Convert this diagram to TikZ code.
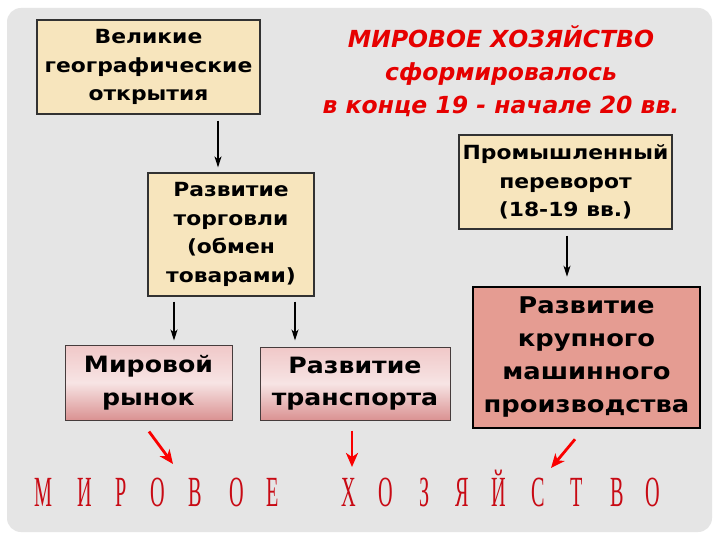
\documentclass[tikz,border=0pt]{standalone}
\usepackage{fontspec}
\setmainfont{DejaVu Sans}
\newfontfamily\boxfont{DejaVu Sans}[FakeStretch=1.12]
\newfontfamily\condserif{Liberation Serif}[RawFeature=-ccmp]
\usetikzlibrary{arrows.meta,calc}
\definecolor{bggray}{RGB}{229,229,229}
\definecolor{beige}{RGB}{247,229,189}
\definecolor{salmon}{RGB}{229,156,146}
\definecolor{titlered}{RGB}{230,0,0}
\definecolor{letterred}{RGB}{200,10,20}
\definecolor{arrowred}{RGB}{250,0,0}
\tikzset{
  beigebox/.style={draw={rgb,255:red,50;green,50;blue,50}, line width=1.2pt, fill=beige,
    align=center, inner sep=0pt, font=\boxfont\bfseries\fontsize{19.5}{28.5}\selectfont},
  pinkbox/.style={draw={rgb,255:red,70;green,60;blue,60}, line width=1pt,
    top color={rgb,255:red,240;green,200;blue,200}, bottom color={rgb,255:red,218;green,146;blue,146},
    middle color={rgb,255:red,247;green,228;blue,228},
    align=center, inner sep=0pt, font=\boxfont\bfseries\fontsize{22.5}{32.5}\selectfont},
  bigbox/.style={draw=black, line width=2.5pt, fill=salmon,
    align=center, inner sep=0pt, font=\boxfont\bfseries\fontsize{23}{33}\selectfont},
  blk/.style={draw=black, line width=1.4pt, -{Stealth[length=11pt,width=7pt,inset=3pt]}},
  redarr/.style={draw=arrowred, line width=2.8pt, -{Stealth[length=14pt,width=12pt,inset=4pt]}},
  letter/.style={text=letterred, inner sep=0pt, font=\condserif\fontsize{43}{43}\selectfont}
}
\begin{document}
\begin{tikzpicture}[x=1pt,y=-1pt]
\useasboundingbox (0,0) rectangle (720,540);
\fill[white] (0,0) rectangle (720,540);
\fill[bggray, rounded corners=14pt] (7,8) rectangle (712,532);

% title
\node (title) [text=titlered, align=center, font=\bfseries\itshape\fontsize{23.5}{33}\selectfont]
  at (501,71) {МИРОВОЕ ХОЗЯЙСТВО\\сформировалось\\в конце 19 - начале 20 вв.};

% boxes
\node (b1) [beigebox, minimum width=223pt, minimum height=94pt] at (148.5,67)
  {Великие\\географические\\открытия};
\node (b2) [beigebox, minimum width=166pt, minimum height=123pt] at (231,234.5)
  {Развитие\\торговли\\(обмен\\товарами)};
\node (b3) [beigebox, minimum width=213pt, minimum height=94pt] at (565.5,182)
  {Промышленный\\переворот\\(18-19 вв.)};
\node (b4) [pinkbox, minimum width=167pt, minimum height=75pt] at (148.5,382.5)
  {Мировой\\рынок};
\node (b5) [pinkbox, minimum width=190pt, minimum height=73pt] at (355,383.5)
  {Развитие\\транспорта};
\node (b6) [bigbox, minimum width=227pt, minimum height=141pt] at (586.5,357.5)
  {Развитие\\крупного\\машинного\\производства};

% black arrows
\draw[blk] ($(b1.south)+(69.5,6)$) -- ($(b2.north)+(-13,-5)$);
\draw[blk] ($(b2.south)+(-57,5)$) -- ($(b4.north)+(25.5,-4)$);
\draw[blk] ($(b2.south)+(64,5)$) -- ($(b5.north)+(-60,-6)$);
\draw[blk] ($(b3.south)+(1.5,6)$) -- ($(b6.north)+(-19.5,-9)$);

% bottom letters
\foreach \ch/\xx [count=\i] in {М/43,И/84.5,Р/121,О/158,В/195,О/236.5,Е/273,Х/349,О/386,З/425,Я/462,\symbol{"0419}/499,С/538,Т/577,В/617,О/653}
  \node (l\i) [letter, anchor=base] at (\xx,506) {\scalebox{0.47}[1]{\ch}};

% red arrows
\coordinate (r1) at (173,464);
\coordinate (r2) at (352,467);
\coordinate (r3) at (551,468);
\draw[redarr] ($(b4.south)+(0.5,11)$) -- (r1);
\draw[redarr] ($(b5.south)+(-3,10)$) -- (r2);
\draw[redarr] ($(b6.south)+(-11.5,10)$) -- (r3);
\end{tikzpicture}
\end{document}
